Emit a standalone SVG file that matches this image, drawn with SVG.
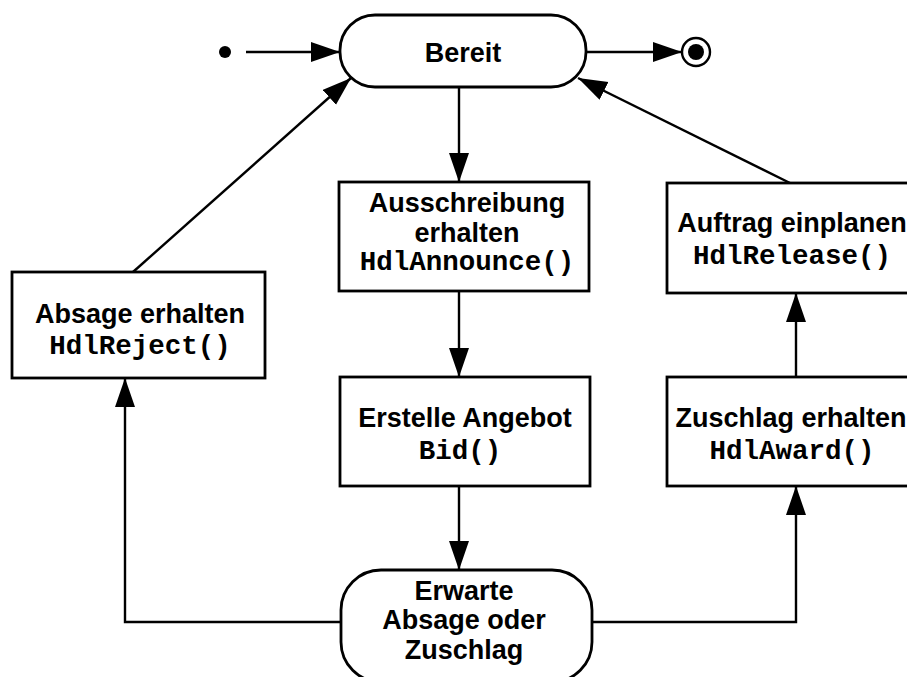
<svg xmlns="http://www.w3.org/2000/svg" width="907" height="677" viewBox="0 0 907 677">
  <defs>
    <marker id="arrow" markerUnits="userSpaceOnUse" markerWidth="30" markerHeight="22" refX="29" refY="10" orient="auto">
      <path d="M0,0 L29,10 L0,20 Z" fill="#000"/>
    </marker>
    <style>
      .box { fill: #fff; stroke: #000; stroke-width: 2.8; }
      .edge { fill: none; stroke: #000; stroke-width: 2.4; marker-end: url(#arrow); }
      .lbl { font-family: "Liberation Sans", Arial, sans-serif; font-weight: bold; font-size: 27px; text-anchor: middle; fill: #000; }
      .code { font-family: "Liberation Mono", "Courier New", monospace; font-weight: bold; font-size: 27.5px; text-anchor: middle; fill: #000; }
    </style>
  </defs>
  <rect width="907" height="677" fill="#fff"/>

  <!-- transitions -->
  <g id="connectors">
    <line class="edge" x1="246" y1="52" x2="340" y2="52"/>
    <line class="edge" x1="586" y1="52" x2="682" y2="52"/>
    <line class="edge" x1="459" y1="87" x2="459" y2="182"/>
    <line class="edge" x1="459" y1="291" x2="459" y2="377"/>
    <line class="edge" x1="459" y1="486" x2="459" y2="570"/>
    <polyline class="edge" points="341,622 125,622 125,378"/>
    <polyline class="edge" points="592,622 796,622 796,486"/>
    <line class="edge" x1="796" y1="377" x2="796" y2="293"/>
    <line class="edge" x1="790" y1="183" x2="578" y2="78"/>
    <line class="edge" x1="133" y1="272" x2="351" y2="78"/>
  </g>

  <!-- pseudo states -->
  <g id="initial">
    <circle cx="225" cy="52" r="6" fill="#000"/>
  </g>
  <g id="final">
    <circle cx="696" cy="52" r="14" fill="#fff" stroke="#000" stroke-width="2.4"/>
    <circle cx="696" cy="52" r="8" fill="#000"/>
  </g>

  <!-- states -->
  <g id="bereit">
    <rect class="box" x="340" y="15" width="246" height="72" rx="35" ry="35"/>
    <text class="lbl" x="463" y="62">Bereit</text>
  </g>

  <g id="ausschreibung">
    <rect class="box" x="339" y="182" width="250" height="109"/>
    <text class="lbl" x="467" y="212">Ausschreibung</text>
    <text class="lbl" x="467" y="242">erhalten</text>
    <text class="code" x="467" y="270">HdlAnnounce()</text>
  </g>

  <g id="erstelle">
    <rect class="box" x="340" y="377" width="250" height="109"/>
    <text class="lbl" x="465" y="427">Erstelle Angebot</text>
    <text class="code" x="460" y="459">Bid()</text>
  </g>

  <g id="erwarte">
    <rect class="box" x="341" y="570" width="251" height="112" rx="40" ry="40"/>
    <text class="lbl" x="464" y="600">Erwarte</text>
    <text class="lbl" x="464" y="629">Absage oder</text>
    <text class="lbl" x="464" y="659">Zuschlag</text>
  </g>

  <g id="absage">
    <rect class="box" x="12" y="272" width="253" height="106"/>
    <text class="lbl" x="140" y="323">Absage erhalten</text>
    <text class="code" x="140" y="354">HdlReject()</text>
  </g>

  <g id="auftrag">
    <rect class="box" x="667" y="183" width="248" height="110"/>
    <text class="lbl" x="792" y="232">Auftrag einplanen</text>
    <text class="code" x="792" y="264">HdlRelease()</text>
  </g>

  <g id="zuschlag">
    <rect class="box" x="667" y="377" width="248" height="109"/>
    <text class="lbl" x="791" y="427">Zuschlag erhalten</text>
    <text class="code" x="792" y="459">HdlAward()</text>
  </g>
</svg>
